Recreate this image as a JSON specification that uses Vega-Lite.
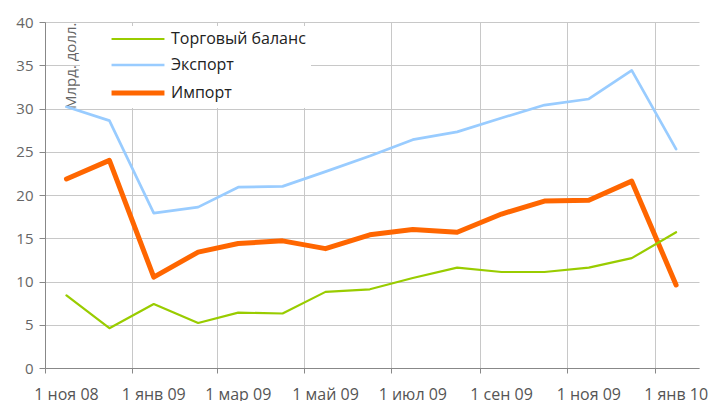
{
  "$schema": "https://vega.github.io/schema/vega-lite/v6.json",
  "width": 654,
  "height": 346,
  "autosize": "none",
  "padding": {"left": 45, "top": 22, "right": 12, "bottom": 33},
  "background": "white",
  "config": {"view": {"stroke": null}, "font": "Open Sans"},
  "data": {"values": [
    {"date": "2008-11-16", "series": "Экспорт", "value": 30.2},
    {"date": "2008-12-16", "series": "Экспорт", "value": 28.6},
    {"date": "2009-01-16", "series": "Экспорт", "value": 17.9},
    {"date": "2009-02-16", "series": "Экспорт", "value": 18.6},
    {"date": "2009-03-16", "series": "Экспорт", "value": 20.9},
    {"date": "2009-04-16", "series": "Экспорт", "value": 21.0},
    {"date": "2009-05-16", "series": "Экспорт", "value": 22.7},
    {"date": "2009-06-16", "series": "Экспорт", "value": 24.5},
    {"date": "2009-07-16", "series": "Экспорт", "value": 26.4},
    {"date": "2009-08-16", "series": "Экспорт", "value": 27.3},
    {"date": "2009-09-16", "series": "Экспорт", "value": 28.9},
    {"date": "2009-10-16", "series": "Экспорт", "value": 30.4},
    {"date": "2009-11-16", "series": "Экспорт", "value": 31.1},
    {"date": "2009-12-16", "series": "Экспорт", "value": 34.4},
    {"date": "2010-01-16", "series": "Экспорт", "value": 25.3},
    {"date": "2008-11-16", "series": "Импорт", "value": 21.85},
    {"date": "2008-12-16", "series": "Импорт", "value": 24.0},
    {"date": "2009-01-16", "series": "Импорт", "value": 10.5},
    {"date": "2009-02-16", "series": "Импорт", "value": 13.4},
    {"date": "2009-03-16", "series": "Импорт", "value": 14.4},
    {"date": "2009-04-16", "series": "Импорт", "value": 14.7},
    {"date": "2009-05-16", "series": "Импорт", "value": 13.8},
    {"date": "2009-06-16", "series": "Импорт", "value": 15.4},
    {"date": "2009-07-16", "series": "Импорт", "value": 16.0},
    {"date": "2009-08-16", "series": "Импорт", "value": 15.7},
    {"date": "2009-09-16", "series": "Импорт", "value": 17.8},
    {"date": "2009-10-16", "series": "Импорт", "value": 19.3},
    {"date": "2009-11-16", "series": "Импорт", "value": 19.4},
    {"date": "2009-12-16", "series": "Импорт", "value": 21.6},
    {"date": "2010-01-16", "series": "Импорт", "value": 9.6},
    {"date": "2008-11-16", "series": "Торговый баланс", "value": 8.4},
    {"date": "2008-12-16", "series": "Торговый баланс", "value": 4.6},
    {"date": "2009-01-16", "series": "Торговый баланс", "value": 7.4},
    {"date": "2009-02-16", "series": "Торговый баланс", "value": 5.2},
    {"date": "2009-03-16", "series": "Торговый баланс", "value": 6.4},
    {"date": "2009-04-16", "series": "Торговый баланс", "value": 6.3},
    {"date": "2009-05-16", "series": "Торговый баланс", "value": 8.8},
    {"date": "2009-06-16", "series": "Торговый баланс", "value": 9.1},
    {"date": "2009-07-16", "series": "Торговый баланс", "value": 10.4},
    {"date": "2009-08-16", "series": "Торговый баланс", "value": 11.6},
    {"date": "2009-09-16", "series": "Торговый баланс", "value": 11.1},
    {"date": "2009-10-16", "series": "Торговый баланс", "value": 11.1},
    {"date": "2009-11-16", "series": "Торговый баланс", "value": 11.6},
    {"date": "2009-12-16", "series": "Торговый баланс", "value": 12.7},
    {"date": "2010-01-16", "series": "Торговый баланс", "value": 15.7}
  ]},
  "mark": {"type": "line", "strokeCap": "round", "strokeJoin": "round"},
  "encoding": {
    "x": {
      "field": "date", "type": "temporal",
      "scale": {"type": "utc", "domain": [
        {"year": 2008, "month": 11, "date": 1, "utc": true},
        {"year": 2010, "month": 2, "date": 1, "utc": true}
      ]},
      "axis": {
        "title": null,
        "values": [
          {"year": 2008, "month": 11, "date": 1, "utc": true},
          {"year": 2009, "month": 1, "date": 1, "utc": true},
          {"year": 2009, "month": 3, "date": 1, "utc": true},
          {"year": 2009, "month": 5, "date": 1, "utc": true},
          {"year": 2009, "month": 7, "date": 1, "utc": true},
          {"year": 2009, "month": 9, "date": 1, "utc": true},
          {"year": 2009, "month": 11, "date": 1, "utc": true},
          {"year": 2010, "month": 1, "date": 1, "utc": true}
        ],
        "labelExpr": "'1 ' + ['янв','фев','мар','апр','май','июн','июл','авг','сен','окт','ноя','дек'][utcmonth(datum.value)] + ' ' + utcFormat(datum.value, '%y')",
        "labelOffset": 21,
        "labelFlush": false,
        "labelOverlap": false,
        "labelBound": false,
        "grid": true,
        "gridColor": "#c8c8c8",
        "domainColor": "#888888",
        "tickColor": "#888888",
        "tickSize": 5,
        "labelFontSize": 16,
        "labelColor": "#555555",
        "labelPadding": 13
      }
    },
    "y": {
      "field": "value", "type": "quantitative",
      "scale": {"domain": [0, 40], "nice": false},
      "axis": {
        "values": [0, 5, 10, 15, 20, 25, 30, 35, 40],
        "title": "Млрд. долл.",
        "titleX": 25,
        "titleY": 0,
        "titleAngle": -90,
        "titleAlign": "right",
        "titleBaseline": "middle",
        "titleFontSize": 15,
        "titleFontWeight": "normal",
        "titleColor": "#666666",
        "grid": true,
        "gridColor": "#c8c8c8",
        "domainColor": "#888888",
        "tickColor": "#888888",
        "tickSize": 6,
        "labelFontSize": 15,
        "labelColor": "#666666",
        "labelPadding": 6
      }
    },
    "color": {
      "field": "series", "type": "ordinal",
      "scale": {"type": "ordinal", "domain": ["Торговый баланс", "Экспорт", "Импорт"], "range": ["#99cc00", "#99ccff", "#ff6600"]},
      "legend": {"title": null, "orient": "none", "legendX": 35, "legendY": 4, "fillColor": "white", "padding": 5, "symbolType": "M-5,0H5", "symbolSize": 112, "symbolOffset": 45, "labelFontSize": 16, "labelColor": "#222222", "labelFont": "Open Sans", "rowPadding": 10, "labelOffset": 25, "labelExpr": "datum.label + '\u00a0\u00a0\u00a0\u00a0\u00a0\u00a0\u00a0\u00a0'"}
    },
    "strokeWidth": {
      "field": "series", "type": "ordinal",
      "scale": {"type": "ordinal", "domain": ["Торговый баланс", "Экспорт", "Импорт"], "range": [2.2, 2.7, 5]},
      "legend": {"title": null, "orient": "none", "legendX": 35, "legendY": 4, "fillColor": "white", "padding": 5, "symbolType": "M-5,0H5", "symbolSize": 112, "symbolOffset": 45, "labelFontSize": 16, "labelColor": "#222222", "labelFont": "Open Sans", "rowPadding": 10, "labelOffset": 25, "labelExpr": "datum.label + '\u00a0\u00a0\u00a0\u00a0\u00a0\u00a0\u00a0\u00a0'"}
    }
  }
}
